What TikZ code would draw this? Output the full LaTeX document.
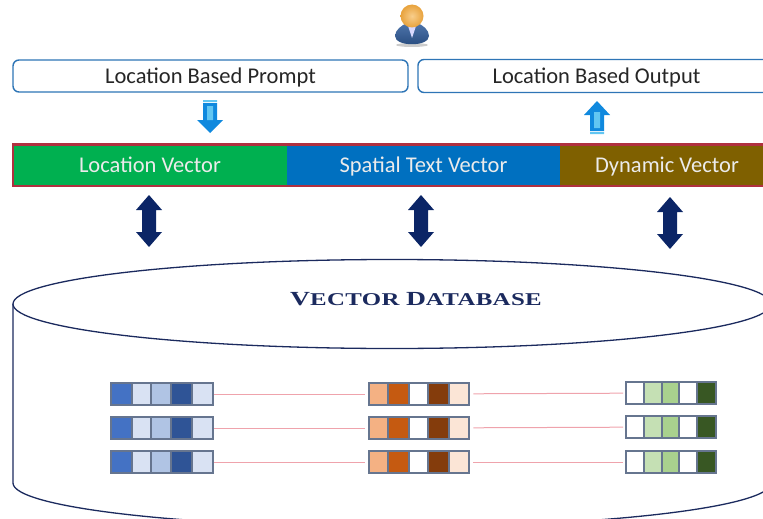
\documentclass[tikz,border=0pt]{standalone}
\usepackage{fontspec}
\setmainfont{Carlito}
\newfontfamily\vdbfont[FakeStretch=1.38,LetterSpace=2]{Liberation Serif}
\usetikzlibrary{shapes.geometric}
\definecolor{boxline}{HTML}{2E75B6}
\definecolor{barred}{HTML}{B0303F}
\definecolor{navy}{HTML}{0B2566}
\definecolor{cylline}{HTML}{1B2A5E}
\definecolor{cellline}{HTML}{66758F}
\definecolor{linkpink}{HTML}{EFA3AC}
\definecolor{txtdark}{HTML}{262626}
\definecolor{barG}{HTML}{00B050}
\definecolor{barB}{HTML}{0070C0}
\definecolor{barY}{HTML}{7F6000}
\definecolor{bA}{HTML}{4472C4}
\definecolor{bB}{HTML}{D9E2F3}
\definecolor{bC}{HTML}{B0C4E4}
\definecolor{bD}{HTML}{2F5496}
\definecolor{oA}{HTML}{F4B183}
\definecolor{oB}{HTML}{C55A11}
\definecolor{oD}{HTML}{843C0C}
\definecolor{oE}{HTML}{FBE5D6}
\definecolor{gB}{HTML}{C5E0B4}
\definecolor{gC}{HTML}{A9D18E}
\definecolor{gE}{HTML}{385723}
\definecolor{arrowblue}{HTML}{1089DE}
\definecolor{arrowlight}{HTML}{62C6F2}
\definecolor{skin}{HTML}{E8A23C}
\definecolor{skinlight}{HTML}{F8CE8C}
\definecolor{suit}{HTML}{2F5C9C}
\tikzset{
  x=1pt,y=-1pt,
  promptbox/.style={draw=boxline,line width=1.4pt,rounded corners=6pt,fill=white,inner sep=0pt,text=txtdark,text height=15pt,text depth=1pt,font=\fontsize{22.5}{26}\selectfont},
  barseg/.style={inner sep=0pt,text=white!92!black,minimum height=41pt,text height=15pt,text depth=1pt,font=\fontsize{22.5}{26}\selectfont},
  vecrow/.style={draw=cellline,line width=1.3pt,inner sep=0pt,minimum height=22pt},
  vecell/.style={draw=cellline,line width=1.2pt},
  veclink/.style={draw=linkpink,line width=1pt},
  biarrow/.style={fill=navy,draw=none},
}
\newcommand{\vecrowdraw}[5]{%
  \foreach \xa/\xb/\cc in {#5}{\fill[\cc] (\xa,#4-11) rectangle (\xb,#4+11);\draw[vecell] (\xa,#4-11) rectangle (\xb,#4+11);}
  \node[vecrow,minimum width={#3-#2},anchor=west] (#1) at (#2,#4) {};
}
\newcommand{\bluerow}[2]{\vecrowdraw{#1}{111}{213}{#2}{111/132/bA,132/151/bB,151/171/bC,171/192/bD,192/213/bB}}
\newcommand{\orangerow}[2]{\vecrowdraw{#1}{369}{469}{#2}{369/388/oA,388/409/oB,409/428/white,428/449/oD,449/469/oE}}
\newcommand{\greenrow}[2]{\vecrowdraw{#1}{626}{716}{#2}{626/644/white,644/662/gB,662/679/gC,679/697/white,697/716/gE}}
\newcommand{\biarrowat}[3]{\fill[biarrow] (#1,#2) -- (#1+13,#2+15) -- (#1+7,#2+15) -- (#1+7,#3-15) -- (#1+13,#3-15) -- (#1,#3) -- (#1-13,#3-15) -- (#1-7,#3-15) -- (#1-7,#2+15) -- (#1-13,#2+15) -- cycle;}
\begin{document}
\begin{tikzpicture}
\useasboundingbox (0,0) rectangle (763,519);
\clip (0,0) rectangle (763,519);
% cylinder
\coordinate (cylL) at (13,304);
\coordinate (cylBL) at (13,483);
\draw[cylline,line width=1.3pt] (cylL) -- (cylBL) arc[start angle=180,end angle=0,x radius=379,y radius=44];
\node[draw=cylline,line width=1.3pt,ellipse,minimum width=758pt,minimum height=89pt,inner sep=0pt,fill=white] (db) at (392,304) {};
\node[text=cylline,font=\bfseries,inner sep=0pt] (dbt) at (416,299) {\vdbfont\fontsize{20}{24}\selectfont V\fontsize{18}{24}\selectfont ECTOR \fontsize{20}{24}\selectfont D\fontsize{18}{24}\selectfont ATABASE};
% person
\fill[black!20] (412,45) ellipse (16 and 2);
\shade[top color=suit!85!white,bottom color=suit!80!black] (395,36) .. controls (395,30) and (402,25) .. (407,23) -- (417,23) .. controls (423,25) and (429,30) .. (429,36) .. controls (429,47) and (395,47) .. (395,36) -- cycle;
\fill[white!85!blue] (408,26) -- (416,26) -- (412,38) -- cycle;
\shade[inner color=skinlight,outer color=skin] (412,16) circle (11.5);
% top boxes
\node[promptbox,minimum width=395pt,minimum height=32pt] (prompt) at (210.5,76) {Location Based Prompt};
\node[promptbox,minimum width=357pt,minimum height=33pt] (output) at (596.5,76) {Location Based Output};
% small arrows
\fill[arrowblue] (203,103) -- (217,103) -- (217,120) -- (223,120) -- (210,133) -- (197,120) -- (203,120) -- cycle;
\fill[arrowlight] (207,106) rectangle (213,120) (203,100) rectangle (217,102);
\fill[arrowblue] (590,131) -- (604,131) -- (604,115) -- (610,115) -- (597,101) -- (584,115) -- (590,115) -- cycle;
\fill[arrowlight] (594,112) rectangle (600,128) (590,132) rectangle (604,134);
% bar
\node[barseg,fill=barG,minimum width=274pt] (loc) at (150,165) {Location Vector};
\node[barseg,fill=barB,minimum width=273pt] (spa) at (423.5,165) {Spatial Text Vector};
\node[barseg,fill=barY,minimum width=214pt] (dyn) at (667,165) {Dynamic Vector};
\draw[barred,line width=2.4pt] (loc.north west) -- (dyn.north east) -- (dyn.south east) -- (loc.south west) -- cycle;
% double arrows
\biarrowat{149}{195}{247}
\biarrowat{421}{195}{247}
\biarrowat{670}{197}{249}
% vector rows
\bluerow{b1}{394}\bluerow{b2}{428}\bluerow{b3}{462}
\orangerow{o1}{394}\orangerow{o2}{428}\orangerow{o3}{462}
\greenrow{g1}{393}\greenrow{g2}{427}\greenrow{g3}{462}
\foreach \n in {1,2,3}{
  \draw[veclink,shorten >=4pt] (b\n) -- (o\n);
  \draw[veclink,shorten >=3pt,shorten <=3pt] (o\n) -- (g\n);
}
\end{tikzpicture}
\end{document}
